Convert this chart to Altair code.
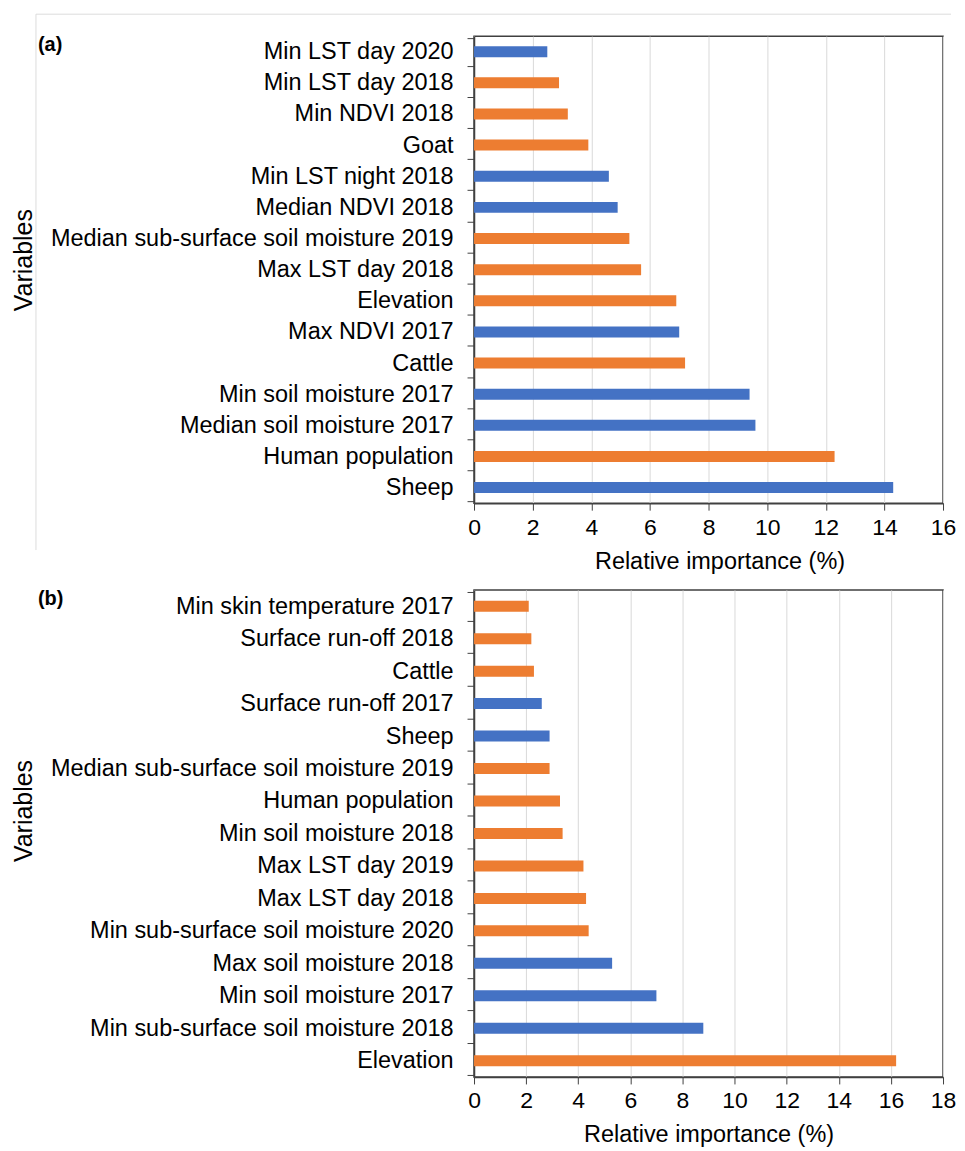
import altair as alt
import pandas as pd

# ---- data: panel (a), top to bottom ----
cats_a = [
    "Min LST day 2020", "Min LST day 2018", "Min NDVI 2018", "Goat",
    "Min LST night 2018", "Median NDVI 2018",
    "Median sub-surface soil moisture 2019", "Max LST day 2018", "Elevation",
    "Max NDVI 2017", "Cattle", "Min soil moisture 2017",
    "Median soil moisture 2017", "Human population", "Sheep",
]
vals_a = [2.5, 2.9, 3.2, 3.9, 4.6, 4.9, 5.3, 5.7, 6.9, 7.0, 7.2, 9.4, 9.6, 12.3, 14.3]
grp_a = ["Group 1", "Group 2", "Group 2", "Group 2", "Group 1", "Group 1",
         "Group 2", "Group 2", "Group 2", "Group 1", "Group 2", "Group 1",
         "Group 1", "Group 2", "Group 1"]

# ---- data: panel (b), top to bottom ----
cats_b = [
    "Min skin temperature 2017", "Surface run-off 2018", "Cattle",
    "Surface run-off 2017", "Sheep", "Median sub-surface soil moisture 2019",
    "Human population", "Min soil moisture 2018", "Max LST day 2019",
    "Max LST day 2018", "Min sub-surface soil moisture 2020",
    "Max soil moisture 2018", "Min soil moisture 2017",
    "Min sub-surface soil moisture 2018", "Elevation",
]
vals_b = [2.1, 2.2, 2.3, 2.6, 2.9, 2.9, 3.3, 3.4, 4.2, 4.3, 4.4, 5.3, 7.0, 8.8, 16.2]
grp_b = ["Group 2", "Group 2", "Group 2", "Group 1", "Group 1", "Group 2",
         "Group 2", "Group 2", "Group 2", "Group 2", "Group 2", "Group 1",
         "Group 1", "Group 1", "Group 2"]

x_ticks_a = [0, 2, 4, 6, 8, 10, 12, 14, 16]
x_ticks_b = [0, 2, 4, 6, 8, 10, 12, 14, 16, 18]

BLUE = "#4472C4"
ORANGE = "#ED7D31"
FONT = "Liberation Sans"
DARK = "#404040"


def panel(cats, vals, grps, ticks, tag, w, h, ytitle_shift, title_x=None,
          outline=False):
    df = pd.DataFrame({"variable": cats, "importance": vals, "group": grps})
    xaxis_kw = dict(
        values=ticks, title="Relative importance (%)", grid=True,
        gridColor="#d9d9d9", gridWidth=1, tickSize=7, tickColor=DARK,
        domainColor=DARK, domainWidth=1.5, labelPadding=6, titlePadding=10,
        labelFontSize=23, titleFontSize=23.5, labelColor="black",
        labelFlush=False,
        titleColor="black", titleFontWeight="normal",
    )
    if title_x is not None:
        xaxis_kw["titleX"] = title_x
    bars = alt.Chart(df).mark_bar(size=11).encode(
        x=alt.X("importance:Q",
                scale=alt.Scale(domain=[ticks[0], ticks[-1]], nice=False),
                axis=alt.Axis(**xaxis_kw)),
        y=alt.Y("variable:N", sort=None,
                axis=alt.Axis(title="Variables", tickBand="extent", grid=False,
                              tickSize=7, tickColor=DARK, domainColor=DARK,
                              domainWidth=1.5, labelPadding=14, labelLimit=600,
                              labelFontSize=23.5, titleFontSize=25,
                              titleX=-438, titleY=h / 2 + ytitle_shift,
                              labelColor="black",
                              titleColor="black", titleFontWeight="normal")),
        color=alt.Color("group:N",
                        scale=alt.Scale(domain=["Group 1", "Group 2"],
                                        range=[BLUE, ORANGE]),
                        legend=None),
    )
    tag_layer = alt.Chart(alt.Data(values=[{"t": tag}])).mark_text(
        align="left", baseline="top", fontSize=20, fontWeight="bold",
        font=FONT, color="black",
    ).encode(x=alt.value(-437), y=alt.value(-1), text="t:N")
    layers = [bars, tag_layer]
    if outline:
        one = alt.Data(values=[{"k": 1}])
        top_line = alt.Chart(one).mark_rule(color="#dcdcdc", strokeWidth=1).encode(
            x=alt.value(-439), x2=alt.value(478), y=alt.value(-22), y2=alt.value(-22))
        left_line = alt.Chart(one).mark_rule(color="#dcdcdc", strokeWidth=1).encode(
            x=alt.value(-439), x2=alt.value(-439), y=alt.value(-22), y2=alt.value(515))
        layers = [top_line, left_line] + layers
    return alt.layer(*layers).properties(width=w, height=h)


chart_a = panel(cats_a, vals_a, grp_a, x_ticks_a, "(a)", 470, 468, -10,
                title_x=246, outline=True)
chart_b = panel(cats_b, vals_b, grp_b, x_ticks_b, "(b)", 470, 488, -23)

chart = alt.vconcat(chart_a, chart_b, spacing=3).properties(
    padding={"left": 3, "top": 3, "right": 0, "bottom": 0}
).configure_view(
    stroke=DARK, strokeWidth=1.5
).configure_axis(
    labelFont=FONT, titleFont=FONT
)

chart.save("out.html", embed_options={"renderer": "svg", "actions": False})
